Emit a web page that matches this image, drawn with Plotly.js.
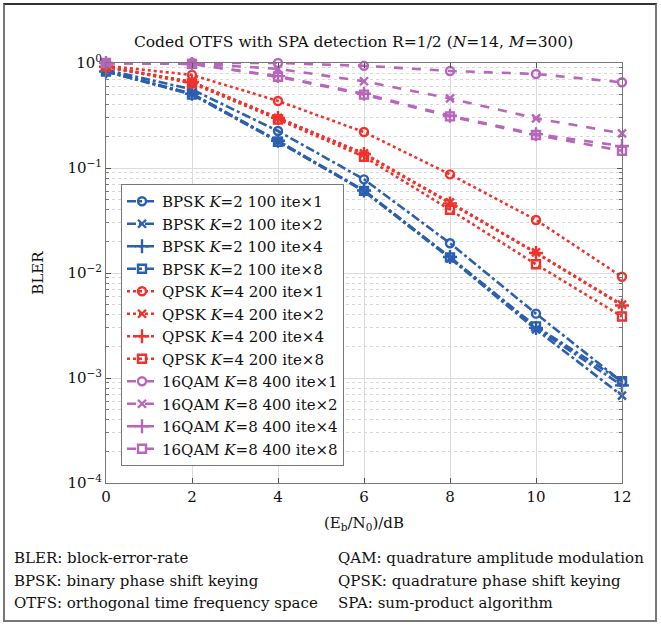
<!DOCTYPE html>
<html>
<head>
<meta charset="utf-8">
<script src="https://cdn.plot.ly/plotly-3.0.1.min.js"></script>
<style>
  html, body { margin: 0; padding: 0; background: #fff; }
  #wrap { position: relative; width: 661px; height: 626px; }
  #chart { position: absolute; left: 0; top: 0; width: 661px; height: 626px; }
  #frame { position: absolute; left: 3px; top: 3px; width: 654px; height: 619px;
           box-sizing: border-box; border: 2px solid #777; border-top-color: #333; pointer-events: none; }
</style>
</head>
<body>
<div id="wrap"><div id="chart"></div><div id="frame"></div></div>
<script>
// ---- data ----
const snr = [0, 2, 4, 6, 8, 10, 12];

const bpsk1 = [0.86, 0.56, 0.225, 0.078, 0.0192, 0.0041, 0.00092];
const bpsk2 = [0.83, 0.51, 0.180, 0.060, 0.0138, 0.0029, 0.00068];
const bpsk4 = [0.83, 0.51, 0.182, 0.061, 0.0142, 0.0030, 0.00085];
const bpsk8 = [0.83, 0.50, 0.178, 0.0605, 0.0141, 0.0031, 0.00093];

const qpsk1 = [0.94, 0.77, 0.435, 0.220, 0.087, 0.032, 0.0092];
const qpsk2 = [0.92, 0.66, 0.300, 0.138, 0.047, 0.0157, 0.0050];
const qpsk4 = [0.92, 0.66, 0.300, 0.136, 0.046, 0.0155, 0.0049];
const qpsk8 = [0.92, 0.64, 0.290, 0.128, 0.040, 0.0121, 0.00385];

const qam1 = [1.0, 1.0, 1.0, 0.94, 0.84, 0.786, 0.655];
const qam2 = [1.0, 0.99, 0.88, 0.67, 0.46, 0.297, 0.214];
const qam4 = [1.0, 0.98, 0.75, 0.51, 0.315, 0.210, 0.162];
const qam8 = [1.0, 0.98, 0.74, 0.50, 0.310, 0.206, 0.146];

const seriesNames = [
  'BPSK <i>K</i>=2 100 ite×1', 'BPSK <i>K</i>=2 100 ite×2', 'BPSK <i>K</i>=2 100 ite×4', 'BPSK <i>K</i>=2 100 ite×8',
  'QPSK <i>K</i>=4 200 ite×1', 'QPSK <i>K</i>=4 200 ite×2', 'QPSK <i>K</i>=4 200 ite×4', 'QPSK <i>K</i>=4 200 ite×8',
  '16QAM <i>K</i>=8 400 ite×1', '16QAM <i>K</i>=8 400 ite×2', '16QAM <i>K</i>=8 400 ite×4', '16QAM <i>K</i>=8 400 ite×8'
];
const seriesValues = [bpsk1, bpsk2, bpsk4, bpsk8, qpsk1, qpsk2, qpsk4, qpsk8, qam1, qam2, qam4, qam8];

const xTickVals = [0, 2, 4, 6, 8, 10, 12];
const yTickVals = [1, 0.1, 0.01, 0.001, 0.0001];
const yTickText = ['10<sup>0</sup>', '10<sup>−1</sup>', '10<sup>−2</sup>', '10<sup>−3</sup>', '10<sup>−4</sup>'];

const footLeft = ['BLER: block-error-rate', 'BPSK: binary phase shift keying', 'OTFS: orthogonal time frequency space'];
const footRight = ['QAM: quadrature amplitude modulation', 'QPSK: quadrature phase shift keying', 'SPA: sum-product algorithm'];

// ---- styles ----
const FONT = '"DejaVu Serif", "Liberation Serif", serif';
const groupColor = ['#2b5fb0', '#f0322c', '#b866bb'];
const groupDash = ['dashdot', 'dot', 'dash'];
const symbols = ['circle-open', 'x-thin-open', 'cross-thin-open', 'square-open'];
const symSize = [8, 8, 10, 8];

const traces = seriesValues.map((vals, i) => {
  const g = Math.floor(i / 4), s = i % 4;
  const c = groupColor[g];
  return {
    x: snr, y: vals, name: seriesNames[i], type: 'scatter', mode: 'lines+markers',
    cliponaxis: false,
    line: { color: c, width: 2.6, dash: groupDash[g] },
    marker: { symbol: symbols[s], size: symSize[s], color: c, line: { color: c, width: 2.4 } }
  };
});

// pixel helpers for annotations (plot area: x 106..622, y 63..483)
const L = 106, R = 622, T = 63, B = 483;
const px = v => (v - L) / (R - L);
const py = v => (B - v) / (B - T);

const annotations = [];
const footY = [558, 581, 603];
footLeft.forEach((t, i) => annotations.push({ text: t, xref: 'paper', yref: 'paper', x: px(12), y: py(footY[i]),
  xanchor: 'left', yanchor: 'middle', showarrow: false, font: { family: FONT, size: 15, color: '#111' } }));
footRight.forEach((t, i) => annotations.push({ text: t, xref: 'paper', yref: 'paper', x: px(336), y: py(footY[i]),
  xanchor: 'left', yanchor: 'middle', showarrow: false, font: { family: FONT, size: 15, color: '#111' } }));

const layout = {
  width: 661, height: 626,
  margin: { l: L, r: 661 - R, t: T, b: 626 - B },
  paper_bgcolor: '#fff', plot_bgcolor: '#fff',
  font: { family: FONT, color: '#111', size: 15 },
  title: { text: 'Coded OTFS with SPA detection R=1/2 (<i>N</i>=14, <i>M</i>=300)',
           font: { family: FONT, size: 15.5, color: '#111' }, x: 0.535, xanchor: 'center', y: 1 - 42 / 626, yanchor: 'middle' },
  showlegend: true,
  legend: { x: px(121), y: py(184), xanchor: 'left', yanchor: 'top', bgcolor: '#fff',
            bordercolor: '#777', borderwidth: 1, font: { family: FONT, size: 15, color: '#111' },
            tracegroupgap: 0, itemwidth: 30 },
  xaxis: {
    range: [0, 12], tickvals: xTickVals, ticks: 'inside', ticklen: 5, tickcolor: '#555',
    showline: true, linecolor: '#777', linewidth: 1, mirror: 'ticks',
    showgrid: true, gridcolor: '#dcdcdc', gridwidth: 1, zeroline: false,
    tickfont: { family: FONT, size: 15 },
    title: { text: '(E<sub>b</sub>/N<sub>0</sub>)/dB', font: { family: FONT, size: 15 }, standoff: 12 }
  },
  yaxis: {
    type: 'log', range: [-4, 0], tickvals: yTickVals, ticktext: yTickText,
    ticks: 'inside', ticklen: 5, tickcolor: '#555',
    showline: true, linecolor: '#777', linewidth: 1, mirror: 'ticks',
    showgrid: true, gridcolor: '#dcdcdc', gridwidth: 1, zeroline: false,
    tickfont: { family: FONT, size: 15 },
    minor: { dtick: 'D1', ticks: 'inside', ticklen: 3, tickcolor: '#777', showgrid: true, gridcolor: '#d8d8d8', griddash: 'dot', gridwidth: 1 },
    title: { text: 'BLER', font: { family: FONT, size: 15 }, standoff: 20 }
  },
  annotations: annotations
};

Plotly.newPlot('chart', traces, layout, { displayModeBar: false, staticPlot: true });
</script>
</body>
</html>
